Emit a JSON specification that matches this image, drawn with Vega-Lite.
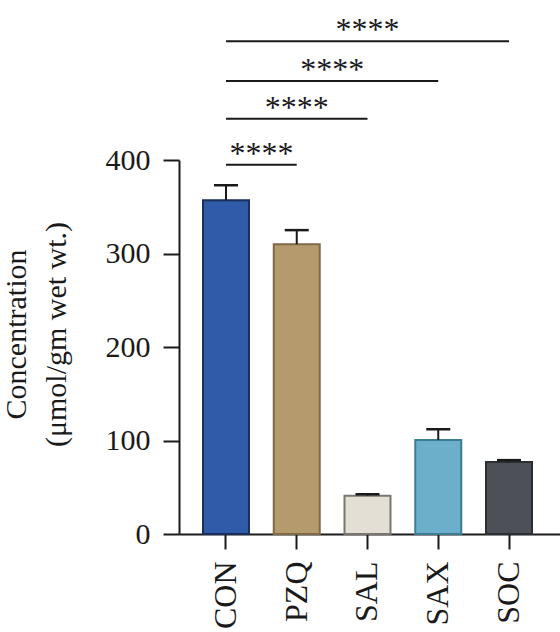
{
  "$schema": "https://vega.github.io/schema/vega-lite/v6.json",
  "width": 381,
  "height": 374,
  "autosize": {"type": "none"},
  "padding": {"left": 179, "top": 160, "right": 0, "bottom": 98},
  "background": "white",
  "config": {"view": {"stroke": null}, "font": "Liberation Serif"},
  "datasets": {
    "bars": [
      {"group": "CON", "value": 357, "upper": 373},
      {"group": "PZQ", "value": 310, "upper": 325},
      {"group": "SAL", "value": 41, "upper": 42.5},
      {"group": "SAX", "value": 100.5, "upper": 112},
      {"group": "SOC", "value": 77, "upper": 79}
    ],
    "sig": [
      {"x1": 1, "x2": 2, "xm": 1.5, "y": 395, "label": "****"},
      {"x1": 1, "x2": 3, "xm": 2, "y": 444, "label": "****"},
      {"x1": 1, "x2": 4, "xm": 2.5, "y": 484.5, "label": "****"},
      {"x1": 1, "x2": 5, "xm": 3, "y": 527, "label": "****"}
    ]
  },
  "layer": [
    {
      "data": {"name": "bars"},
      "encoding": {
        "x": {
          "field": "group", "type": "nominal",
          "scale": {"paddingInner": 0.35, "paddingOuter": 0.3675, "align": 0.4615},
          "axis": {
            "title": null, "labelAngle": -90, "labelFont": "Liberation Serif", "labelFontSize": 32,
            "labelColor": "#1a1a1a", "labelPadding": 12, "tickSize": 15, "tickWidth": 2,
            "tickColor": "#1a1a1a", "domainWidth": 2, "domainColor": "#1a1a1a", "grid": false
          }
        }
      },
      "layer": [
        {
          "mark": {"type": "bar", "strokeWidth": 2},
          "encoding": {
            "y": {
              "field": "value", "type": "quantitative",
              "scale": {"domain": [0, 400], "nice": false},
              "axis": {
                "title": ["Concentration", "(μmol/gm wet wt.)"],
                "values": [0, 100, 200, 300, 400], "grid": false,
                "tickSize": 16, "tickWidth": 2, "tickColor": "#1a1a1a",
                "domainWidth": 2, "domainColor": "#1a1a1a",
                "labelFont": "Liberation Serif", "labelFontSize": 30, "labelColor": "#1a1a1a", "labelPadding": 13,
                "titleFont": "Liberation Serif", "titleFontSize": 30, "titleFontWeight": "normal", "titleColor": "#1a1a1a",
                "titleLineHeight": 40, "titleAngle": -90, "titleBaseline": "bottom", "titleAlign": "center",
                "titleX": -148, "titleY": 174
              }
            },
            "fill": {
              "field": "group", "type": "nominal", "legend": null,
              "scale": {"domain": ["CON", "PZQ", "SAL", "SAX", "SOC"], "range": ["#2F5BA8", "#B49A6D", "#E3DFD4", "#6BAFCB", "#4D5157"]}
            },
            "stroke": {
              "field": "group", "type": "nominal", "legend": null,
              "scale": {"domain": ["CON", "PZQ", "SAL", "SAX", "SOC"], "range": ["#1A2F5E", "#7E6A45", "#78776F", "#3C7D93", "#2B2E32"]}
            }
          }
        },
        {
          "mark": {"type": "rule", "strokeWidth": 2, "color": "#1a1a1a"},
          "encoding": {
            "y": {"field": "value", "type": "quantitative"},
            "y2": {"field": "upper"}
          }
        },
        {
          "mark": {"type": "tick", "size": 24, "thickness": 2.5, "color": "#1a1a1a", "opacity": 1},
          "encoding": {
            "y": {"field": "upper", "type": "quantitative"}
          }
        }
      ]
    },
    {
      "data": {"name": "sig"},
      "layer": [
        {
          "mark": {"type": "rule", "strokeWidth": 2, "color": "#1a1a1a"},
          "encoding": {
            "x": {"field": "x1", "type": "quantitative", "scale": {"domain": [0.3357, 5.7207], "nice": false, "zero": false}, "axis": null},
            "x2": {"field": "x2"},
            "y": {"field": "y", "type": "quantitative"}
          }
        },
        {
          "mark": {"type": "text", "font": "Liberation Serif", "fontSize": 32, "baseline": "alphabetic", "align": "center", "color": "#1a1a1a", "dy": -1},
          "encoding": {
            "x": {"field": "xm", "type": "quantitative", "axis": null},
            "y": {"field": "y", "type": "quantitative"},
            "text": {"field": "label"}
          }
        }
      ]
    }
  ],
  "resolve": {"scale": {"x": "independent"}}
}
